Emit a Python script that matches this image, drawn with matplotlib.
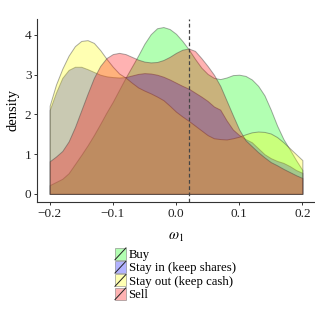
import matplotlib
matplotlib.use('Agg')
import matplotlib.pyplot as plt
from matplotlib.patches import Patch, Rectangle
from matplotlib.lines import Line2D
from matplotlib.legend_handler import HandlerPatch

plt.rcParams['font.family'] = ['Liberation Serif', 'DejaVu Serif']
plt.rcParams['mathtext.fontset'] = 'stix'

# omega_1 grid, step 0.01
omega = [round(-0.20 + 0.01 * i, 2) for i in range(41)]

buy = [0.22, 0.30, 0.38, 0.52, 0.75, 0.98, 1.22, 1.48, 1.76, 2.05,
       2.32, 2.62, 2.92, 3.20, 3.48, 3.78, 4.02, 4.17, 4.20, 4.15,
       4.03, 3.85, 3.64, 3.40, 3.18, 3.02, 2.92, 2.89, 2.93, 2.99,
       3.00, 2.97, 2.88, 2.72, 2.48, 2.12, 1.72, 1.38, 1.12, 0.85,
       0.60]
stay_in = [2.11, 2.55, 2.92, 3.12, 3.20, 3.20, 3.14, 3.07, 3.00, 2.96,
           2.94, 2.93, 2.94, 2.98, 3.02, 3.04, 3.03, 3.00, 2.95, 2.88,
           2.80, 2.72, 2.65, 2.55, 2.45, 2.34, 2.20, 2.12, 1.85, 1.62,
           1.48, 1.38, 1.30, 1.15, 1.00, 0.90, 0.83, 0.78, 0.70, 0.60,
           0.53]
stay_out = [2.22, 2.75, 3.15, 3.48, 3.72, 3.85, 3.87, 3.80, 3.62, 3.40,
            3.20, 3.03, 2.93, 2.80, 2.68, 2.60, 2.53, 2.45, 2.36, 2.22,
            2.07, 1.95, 1.84, 1.72, 1.60, 1.48, 1.40, 1.38, 1.37, 1.40,
            1.44, 1.50, 1.55, 1.57, 1.56, 1.52, 1.43, 1.30, 1.15, 1.00,
            0.85]
sell = [0.82, 0.94, 1.08, 1.32, 1.68, 2.10, 2.52, 2.92, 3.22, 3.42,
        3.52, 3.55, 3.52, 3.45, 3.38, 3.33, 3.31, 3.32, 3.37, 3.45,
        3.55, 3.63, 3.66, 3.60, 3.42, 3.22, 3.00, 2.72, 2.35, 1.98,
        1.62, 1.35, 1.20, 1.05, 0.92, 0.80, 0.72, 0.63, 0.55, 0.47,
        0.40]

labels = ['Buy', 'Stay in (keep shares)', 'Stay out (keep cash)', 'Sell']
colors = [(0, 1, 0), (0, 0, 1), (1, 1, 0), (1, 0, 0)]
vline_x = 0.02


class KeyHandler(HandlerPatch):
    # filled square with a diagonal stroke, like the ggplot key
    def create_artists(self, legend, orig_handle, xdescent, ydescent,
                       width, height, fontsize, trans):
        x0, y0 = -xdescent, -ydescent
        r = Rectangle((x0, y0), width, height,
                      facecolor=orig_handle.get_facecolor(),
                      edgecolor=(0.45, 0.45, 0.45, 0.6), lw=0.6, transform=trans)
        d = Line2D([x0, x0 + width], [y0, y0 + height], color='#222222',
                   lw=0.7, transform=trans)
        return [r, d]


fig = plt.figure(figsize=(3.15, 3.15), dpi=100)
ax = fig.add_axes([0.1175, 0.358, 0.8825, 0.5826])

handles = []
for vals, lab, c in zip([buy, stay_in, stay_out, sell], labels, colors):
    ax.fill_between(omega, 0, vals, facecolor=(*c, 0.3),
                    edgecolor=(0.25, 0.25, 0.25, 0.45), lw=0.7)
    handles.append(Patch(facecolor=(*c, 0.3), label=lab))

ax.axvline(vline_x, color='#444444', lw=0.9, ls=(0, (3, 2)))

ax.set_xlim(-0.22, 0.22)
ax.set_ylim(-0.21, 4.41)
ax.set_xticks([-0.2, -0.1, 0.0, 0.1, 0.2])
ax.set_xticklabels(['\u22120.2', '\u22120.1', '0.0', '0.1', '0.2'])
ax.set_yticks([0, 1, 2, 3, 4])

for s in ['top', 'right']:
    ax.spines[s].set_visible(False)
for s in ['left', 'bottom']:
    ax.spines[s].set_color('#333333')
    ax.spines[s].set_linewidth(0.8)
ax.tick_params(length=2.5, width=0.7, color='#333333', labelsize=9.5,
               labelcolor='#222222', pad=1.5)

ax.set_xlabel(r'$\omega_1$', fontsize=10.5, labelpad=8)
ax.set_ylabel('density', fontsize=10.5, labelpad=4)

fig.legend(handles=handles, handler_map={Patch: KeyHandler()},
           loc='upper left', bbox_to_anchor=(0.365, 0.213), frameon=False,
           fontsize=9.2, handlelength=0.86, handleheight=1.05,
           labelspacing=0.0, handletextpad=0.2, borderpad=0, borderaxespad=0)

fig.savefig('out.png', dpi=100)
